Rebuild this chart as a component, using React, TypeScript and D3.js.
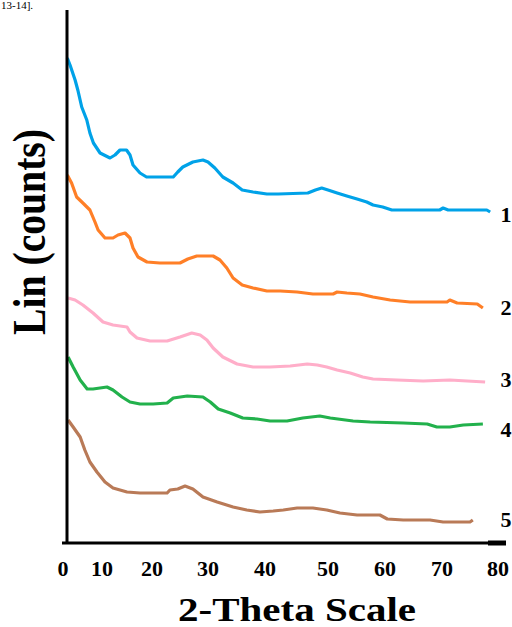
import React from "react";
import * as d3 from "d3";

// X tick labels (2-Theta) and their positions on the original (non-uniform) axis
const xTicks = [0, 10, 20, 30, 40, 50, 60, 70, 80];
const xTickPixels = [63, 102, 152, 208, 265, 328, 385, 442, 498];

// Series: [2-theta, counts (arbitrary, offset stacked)]
const curve1: [number, number][] = [
  [1.1, 485], [1.8, 478], [3.1, 463], [3.8, 453], [4.8, 436], [6.1, 423], [6.9, 410], [7.8, 400],
  [9.5, 390], [11.6, 385], [12.6, 388], [13.6, 393], [14.9, 393], [15.6, 388], [16.2, 378], [17.6, 370],
  [18.9, 366], [21.4, 366], [23.8, 366], [24.6, 371], [25.5, 376], [27.3, 381], [29.1, 383], [30.0, 381],
  [31.2, 375], [32.6, 366], [34.4, 360], [36.0, 353], [37.9, 351], [40.3, 349], [42.1, 349], [46.8, 350],
  [48.0, 353], [49.0, 355], [50.0, 353], [51.6, 350], [53.3, 347], [55.1, 344], [56.8, 341], [57.9, 338],
  [59.6, 336], [61.2, 333], [63.2, 333], [66.1, 333], [69.6, 333], [70.2, 335], [71.1, 333], [75.0, 333],
  [78.0, 333], [78.6, 331],
];
const curve2: [number, number][] = [
  [1.1, 368], [2.2, 360], [3.5, 346], [5.1, 340], [6.9, 333], [8.2, 321], [9.0, 313], [10.6, 305],
  [12.2, 305], [13.2, 308], [14.6, 310], [15.6, 305], [16.2, 295], [17.2, 286], [19.0, 281], [21.4, 280],
  [25.0, 280], [26.4, 284], [28.0, 287], [30.9, 287], [32.1, 283], [33.3, 275], [34.4, 265], [36.0, 258],
  [37.9, 255], [40.3, 252], [42.4, 252], [45.1, 251], [47.6, 249], [50.9, 249], [51.6, 251], [53.3, 250],
  [55.6, 249], [57.9, 246], [60.9, 243], [64.4, 241], [67.9, 241], [70.9, 241], [71.4, 243], [72.7, 240],
  [76.3, 239], [77.3, 235],
];
const curve3: [number, number][] = [
  [1.3, 245], [3.1, 243], [5.1, 238], [7.7, 230], [10.2, 221], [12.2, 218], [15.0, 216], [15.6, 211],
  [17.0, 205], [19.6, 202], [22.7, 202], [25.0, 206], [27.1, 210], [28.6, 208], [29.8, 203], [30.9, 195],
  [32.6, 186], [35.1, 179], [37.9, 176], [40.8, 176], [44.0, 177], [46.7, 179], [48.3, 178], [49.8, 176],
  [51.6, 173], [53.9, 170], [56.1, 166], [57.9, 164], [62.1, 163], [66.7, 162], [71.4, 163], [74.5, 162],
  [77.7, 161],
];
const curve4: [number, number][] = [
  [1.3, 186], [2.6, 176], [4.4, 163], [6.2, 154], [7.7, 154], [11.0, 156], [12.2, 153], [14.0, 146],
  [15.6, 141], [17.6, 139], [20.2, 139], [22.7, 140], [23.8, 145], [26.3, 147], [29.1, 146], [30.4, 141],
  [31.8, 134], [33.9, 130], [36.1, 125], [38.6, 124], [40.8, 122], [43.5, 122], [46.0, 125], [48.7, 127],
  [50.4, 125], [54.4, 122], [57.4, 121], [63.2, 120], [67.4, 119], [69.1, 116], [71.4, 116], [73.8, 118],
  [77.3, 119],
];
const curve5: [number, number][] = [
  [1.3, 123], [2.6, 116], [4.4, 106], [5.6, 93], [6.9, 81], [8.7, 71], [10.6, 61], [12.2, 55],
  [15.0, 51], [17.6, 50], [20.2, 50], [22.7, 50], [23.2, 53], [24.6, 54], [25.9, 57], [27.3, 54],
  [29.1, 46], [31.6, 41], [34.4, 36], [36.8, 33], [39.1, 31], [41.3, 32], [42.9, 33], [45.1, 35],
  [47.6, 35], [49.8, 33], [52.1, 30], [55.1, 28], [59.1, 28], [60.4, 24], [63.2, 23], [67.9, 23],
  [70.2, 21], [75.0, 21], [75.5, 23],
];

const seriesNames = ["1", "2", "3", "4", "5"];
const seriesColors = ["#00A2E8", "#FF7F27", "#FFAEC9", "#22B14C", "#B97A57"];
const seriesData = [curve1, curve2, curve3, curve4, curve5];
// label vertical positions in counts units (where the numbers sit at the right end)
const labelLevels = [321, 228, 156, 106, 16];

export default function App() {
  const W = 512;
  const H = 627;
  const axisX = 67;
  const axisY = 543;
  const axisTop = 10;

  const x = d3.scaleLinear().domain(xTicks).range(xTickPixels);
  const y = d3.scaleLinear().domain([0, 533]).range([axisY, axisY - 533]);

  const line = d3
    .line<[number, number]>()
    .x((d) => x(d[0]))
    .y((d) => y(d[1]));

  const serif = "'Liberation Serif', 'Times New Roman', serif";

  return (
    <svg
      width={W}
      height={H}
      style={{ position: "absolute", left: 0, top: 0, background: "#fff" }}
    >
      <rect width={W} height={H} fill="#fff" />
      {/* caption fragment */}
      <text x={1} y={9} fontFamily={serif} fontSize={11} fill="#000">
        13-14].
      </text>

      {/* curves */}
      {seriesData.map((d, i) => (
        <path
          key={i}
          d={line(d) || ""}
          fill="none"
          stroke={seriesColors[i]}
          strokeWidth={3.2}
          strokeLinejoin="round"
        />
      ))}

      {/* series labels */}
      {seriesNames.map((n, i) => (
        <text
          key={"l" + i}
          x={x(80) + 8}
          y={y(labelLevels[i])}
          textAnchor="middle"
          fontFamily={serif}
          fontWeight="bold"
          fontSize={22}
          fill="#000"
        >
          {n}
        </text>
      ))}

      {/* axes */}
      <line x1={axisX} x2={axisX} y1={axisTop} y2={axisY + 1} stroke="#000" strokeWidth={3} />
      <line x1={62} x2={506} y1={axisY} y2={axisY} stroke="#000" strokeWidth={3} />
      <line x1={488} x2={506} y1={axisY} y2={axisY} stroke="#000" strokeWidth={5} />

      {/* x tick labels */}
      {xTicks.map((t) => (
        <text
          key={t}
          x={x(t)}
          y={576}
          textAnchor="middle"
          fontFamily={serif}
          fontWeight="bold"
          fontSize={22}
          fill="#000"
        >
          {t}
        </text>
      ))}

      {/* axis titles */}
      <text
        x={178}
        y={621}
        fontFamily={serif}
        fontWeight="bold"
        fontSize={34}
        textLength={238}
        lengthAdjust="spacingAndGlyphs"
        fill="#000"
      >
        2-Theta Scale
      </text>
      <text
        transform="translate(45,335) rotate(-90)"
        x={0}
        y={0}
        fontFamily={serif}
        fontWeight="bold"
        fontSize={46}
        textLength={206}
        lengthAdjust="spacingAndGlyphs"
        fill="#000"
      >
        Lin (counts)
      </text>
    </svg>
  );
}
